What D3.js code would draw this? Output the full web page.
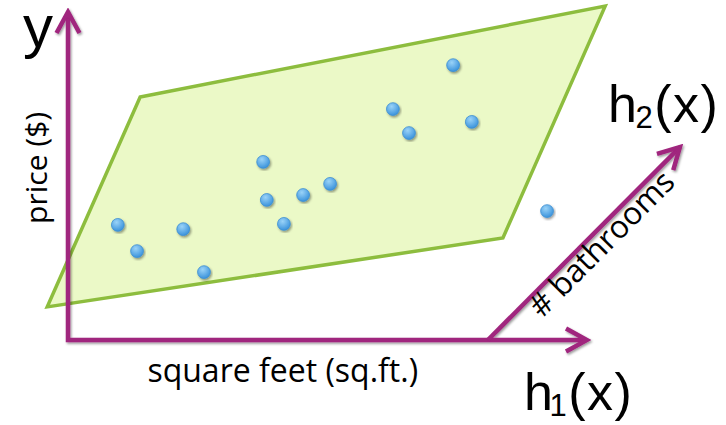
<!DOCTYPE html>
<html>
<head>
<meta charset="utf-8">
<script src="https://cdn.jsdelivr.net/npm/d3@7"></script>
<style>
  html, body { margin: 0; padding: 0; background: #fff; }
  svg { display: block; }
</style>
</head>
<body>
<div id="chart"></div>
<script>
// data (axis units 0-100 on both axes)
const sqft  = [9.6, 13.3, 22.2, 26.2, 37.6, 38.3, 41.6, 45.3, 50.5, 62.6, 65.7, 74.2, 77.8, 92.3];
const price = [35.1, 27.1, 33.8, 20.7, 54.3, 42.7, 35.4, 44.2, 47.6, 70.4, 63.1, 83.8, 66.5, 39.3];

// fitted plane corners
const planeX = [13.9, 103.5, 83.8, -4.0];
const planeY = [74.1, 101.8, 31.1, 10.1];

// third axis (# bathrooms), drawn in perspective
const bathAxisX = [80.9, 117.9];
const bathAxisY = [0, 58.8];

const axisLabels = ['price ($)', 'square feet (sq.ft.)', '# bathrooms'];
const fnLabels = [['h', '1', '(x)'], ['h', '2', '(x)']];

const width = 726, height = 425;
const purple = '#a0257e';

const svg = d3.select('#chart').append('svg')
    .attr('width', width)
    .attr('height', height);

const x = d3.scaleLinear().domain([0, 100]).range([68, 587]);
const y = d3.scaleLinear().domain([0, 100]).range([340, 12]);

const defs = svg.append('defs');

// soft shadow used on axes and dots
const shadow = defs.append('filter').attr('id', 'shadow')
    .attr('x', '-20%').attr('y', '-20%').attr('width', '140%').attr('height', '140%');
shadow.append('feDropShadow')
    .attr('dx', 1.2).attr('dy', 1.6).attr('stdDeviation', 1.3)
    .attr('flood-color', '#000').attr('flood-opacity', 0.4);

const grad = defs.append('radialGradient').attr('id', 'dot')
    .attr('cx', '40%').attr('cy', '30%').attr('r', '70%');
grad.append('stop').attr('offset', '0%').attr('stop-color', '#9ad3f8');
grad.append('stop').attr('offset', '100%').attr('stop-color', '#3b93dc');

defs.append('marker')
    .attr('id', 'arrow')
    .attr('markerUnits', 'userSpaceOnUse')
    .attr('viewBox', '-24 -14 28 28')
    .attr('refX', 0).attr('refY', 0)
    .attr('markerWidth', 28).attr('markerHeight', 28)
    .attr('orient', 'auto')
    .append('path')
    .attr('d', 'M-21,-11.5L0,0L-21,11.5')
    .attr('fill', 'none')
    .attr('stroke', purple)
    .attr('stroke-width', 4.5)
    .attr('stroke-linejoin', 'miter');

// plane
const planePts = planeX.map((d, i) => [x(d), y(planeY[i])]);
svg.append('path')
    .attr('d', d3.line()(planePts) + 'Z')
    .attr('fill', '#ebf9c7')
    .attr('stroke', '#8dbd3e')
    .attr('stroke-width', 3.5)
    .attr('stroke-linejoin', 'miter');

// axes
const axes = svg.append('g').attr('filter', 'url(#shadow)');
axes.append('path')
    .attr('d', d3.line()([[x(0), y(98.5)], [x(0), y(0)], [x(99.3), y(0)]]))
    .attr('fill', 'none')
    .attr('stroke', purple)
    .attr('stroke-width', 4.5)
    .attr('stroke-linejoin', 'miter');
// stubs carry the arrowheads at the exact tips
axes.append('line')
    .attr('x1', x(0)).attr('y1', y(90)).attr('x2', x(0)).attr('y2', y(100))
    .attr('stroke', 'none').attr('marker-end', 'url(#arrow)');
axes.append('line')
    .attr('x1', x(90)).attr('y1', y(0)).attr('x2', x(100)).attr('y2', y(0))
    .attr('stroke', 'none').attr('marker-end', 'url(#arrow)');
axes.append('line')
    .attr('x1', x(bathAxisX[0])).attr('y1', y(bathAxisY[0]))
    .attr('x2', x(bathAxisX[1])).attr('y2', y(bathAxisY[1]))
    .attr('stroke', purple).attr('stroke-width', 4.5)
    .attr('marker-end', 'url(#arrow)');

// dots
svg.append('g').selectAll('circle')
    .data(sqft)
    .join('circle')
    .attr('cx', d => x(d))
    .attr('cy', (d, i) => y(price[i]))
    .attr('r', 6.4)
    .attr('fill', 'url(#dot)')
    .attr('stroke', '#3d8fd2')
    .attr('stroke-width', 0.8)
    .attr('filter', 'url(#shadow)');

// axis labels
const labelFont = "'Open Sans', sans-serif";
svg.append('text')
    .attr('transform', `translate(47,${y(35.4)}) rotate(-90)`)
    .attr('font-family', labelFont).attr('font-size', 30)
    .attr('fill', '#000')
    .text(axisLabels[0]);

svg.append('text')
    .attr('x', x(15.3)).attr('y', 382)
    .attr('font-family', labelFont).attr('font-size', 32)
    .attr('fill', '#000')
    .text(axisLabels[1]);

const bx0 = x(bathAxisX[0]), by0 = y(bathAxisY[0]);
const bx1 = x(bathAxisX[1]), by1 = y(bathAxisY[1]);
const ang = Math.atan2(by1 - by0, bx1 - bx0) * 180 / Math.PI;
svg.append('text')
    .attr('transform', `translate(542,319) rotate(${ang})`)
    .attr('font-family', labelFont).attr('font-size', 31.5)
    .attr('fill', '#000')
    .text(axisLabels[2]);

// big symbol labels
const bigFont = "'Liberation Sans', Arial, sans-serif";
svg.append('text')
    .attr('x', 23).attr('y', 47)
    .attr('font-family', bigFont).attr('font-size', 60)
    .attr('fill', '#000')
    .text('y');

function fnLabel(parts, px, py, dx) {
    const t = svg.append('text')
        .attr('x', px).attr('y', py)
        .attr('font-family', bigFont).attr('font-size', 52)
        .attr('letter-spacing', 1.5)
        .attr('fill', '#000');
    t.append('tspan').text(parts[0]);
    t.append('tspan').attr('dx', dx).attr('dy', 6).attr('font-size', 31).text(parts[1]);
    t.append('tspan').attr('dy', -6).text(parts[2]);
}
fnLabel(fnLabels[0], 524, 410, -5);
fnLabel(fnLabels[1], 608, 122, -3);
</script>
</body>
</html>
